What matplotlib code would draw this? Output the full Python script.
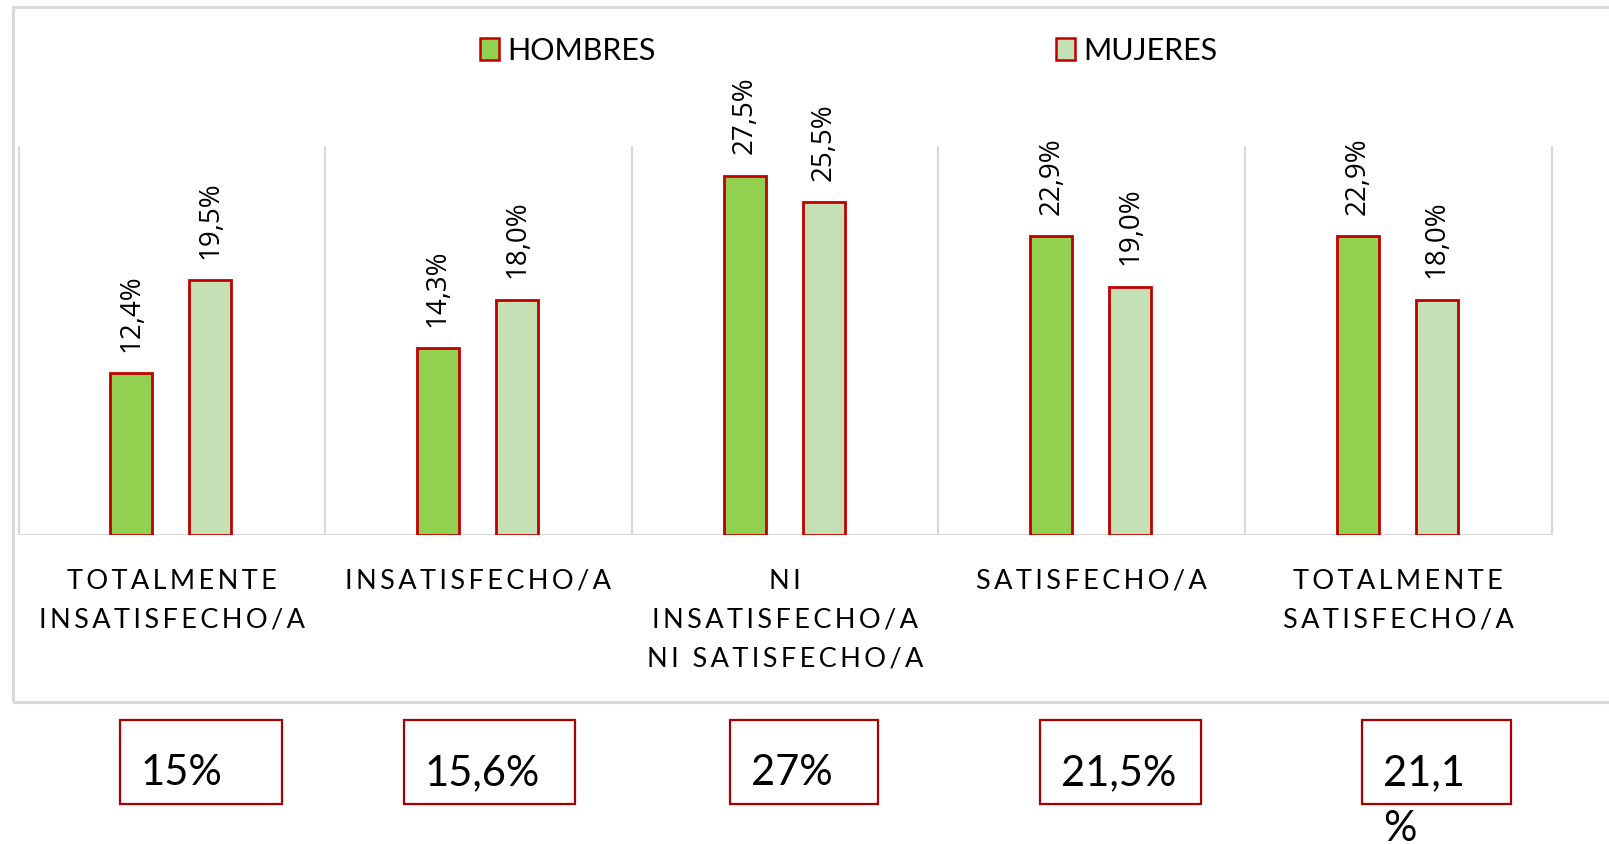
import numpy as np
import matplotlib
matplotlib.use("Agg")
import matplotlib.pyplot as plt
from matplotlib.patches import Rectangle
from matplotlib.transforms import blended_transform_factory

# ---------------- Data ----------------
categories = [
    "TOTALMENTE\nINSATISFECHO/A",
    "INSATISFECHO/A",
    "NI\nINSATISFECHO/A\nNI SATISFECHO/A",
    "SATISFECHO/A",
    "TOTALMENTE\nSATISFECHO/A",
]
series_names = ["HOMBRES", "MUJERES"]
hombres = [12.4, 14.3, 27.5, 22.9, 22.9]
mujeres = [19.5, 18.0, 25.5, 19.0, 18.0]
totals = ["15%", "15,6%", "27%", "21,5%", "21,1\n%"]

# ---------------- Style ----------------
W, H = 1609, 845
GREEN = "#92d050"
LIGHT = "#c5e0b4"
RED = "#c00000"
GRID = "#d9d9d9"
BOX_RED = "#a80000"
INK = "#000000"
LATO = ["Lato", "DejaVu Sans"]


def fx(px):
    return px / W


def fy(py):
    return 1 - py / H


def spaced(s):
    # Excel-style letter spacing on the category labels
    return "\u2009".join(s)


def pct(v):
    return f"{v:.1f}%".replace(".", ",")


fig = plt.figure(figsize=(W / 100, H / 100), dpi=100)
fig.patch.set_facecolor("white")

# outer chart frame (runs off the right edge like the reference)
fig.add_artist(Rectangle((fx(12.5), fy(703)), (W + 20 - 12.5) / W, (703 - 8) / H,
                         transform=fig.transFigure, fill=False, ec=GRID, lw=2.2))

ax = fig.add_axes([fx(18.5), fy(535.6), fx(1551.5) - fx(18.5), (535.6 - 146.7) / H])
ymax = 29.8
ax.set_xlim(-0.5, len(categories) - 0.5)
ax.set_ylim(0, ymax)
ax.axis("off")

x = np.arange(len(categories))
off_h, off_m, bw = -0.132, 0.126, 0.137

# category separators + baseline
ax.vlines(np.arange(-0.5, len(categories)), 0, ymax, color=GRID, lw=1.6, clip_on=False, zorder=1)
ax.axhline(0, color=GRID, lw=2.2, zorder=1)

ax.bar(x + off_h, hombres, width=bw, color=GREEN, edgecolor=RED, linewidth=2, zorder=3)
ax.bar(x + off_m, mujeres, width=bw, color=LIGHT, edgecolor=RED, linewidth=2, zorder=3)

for xs, vals in ((x + off_h, hombres), (x + off_m, mujeres)):
    for xi, v in zip(xs, vals):
        ax.annotate(pct(v), (xi, v), xytext=(0, 16), textcoords="offset points",
                    rotation=90, ha="center", va="bottom", fontsize=20,
                    family=["Open Sans", "DejaVu Sans"], color=INK)

# category labels below the axis
tr = blended_transform_factory(ax.transData, fig.transFigure)
for i, cat in enumerate(categories):
    for k, line in enumerate(cat.split("\n")):
        ax.text(i, fy(589 + 39 * k), spaced(line), transform=tr, ha="center",
                va="baseline", fontsize=19.5, family=LATO, color=INK)

# legend
for (px, name, col) in ((480, series_names[0], GREEN), (1056, series_names[1], LIGHT)):
    fig.add_artist(Rectangle((fx(px), fy(61)), 19 / W, 22 / H, transform=fig.transFigure,
                             fc=col, ec=RED, lw=1.8))
    fig.text(fx(px + 27), fy(60), name, ha="left", va="baseline", fontsize=22,
             family=LATO, color=INK)

# total boxes under the chart
boxes = [(120, 282), (404, 575), (730, 878), (1040, 1201), (1362, 1511)]
for (x0, x1), t in zip(boxes, totals):
    fig.add_artist(Rectangle((fx(x0), fy(805)), (x1 - x0) / W, (805 - 721) / H,
                             transform=fig.transFigure, fill=False, ec=BOX_RED, lw=1.6))
    for k, line in enumerate(t.split("\n")):
        fig.text(fx(x0 + 21), fy(785 + 56 * k), line, ha="left", va="baseline",
                 fontsize=30, family=LATO, color=INK)

fig.savefig("out.png", dpi=100, facecolor="white")
